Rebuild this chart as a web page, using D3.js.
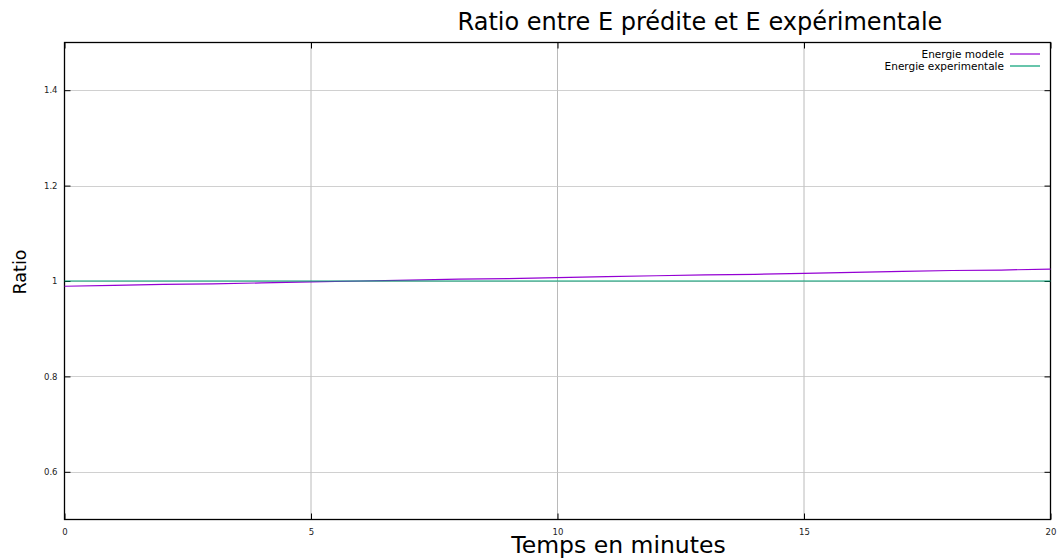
<!DOCTYPE html>
<html>
<head>
<meta charset="utf-8">
<script src="https://cdn.jsdelivr.net/npm/d3@7"></script>
<style>
  body { margin: 0; background: #fff; }
  svg { display: block; font-family: "DejaVu Sans", sans-serif; }
</style>
</head>
<body>
<svg id="chart" width="1064" height="558"></svg>
<script>
// values
const minutes = [0, 1, 2, 3, 4, 5, 6, 7, 8, 9, 10, 11, 12, 13, 14, 15, 16, 17, 18, 19, 20];
const energieModele = [0.989, 0.991, 0.993, 0.994, 0.996, 0.998, 1.000, 1.002, 1.004, 1.005, 1.007,
  1.009, 1.011, 1.013, 1.014, 1.016, 1.018, 1.020, 1.022, 1.023, 1.025];
const energieExperimentale = [1, 1, 1, 1, 1, 1, 1, 1, 1, 1, 1, 1, 1, 1, 1, 1, 1, 1, 1, 1, 1];
const xTicks = [0, 5, 10, 15, 20];
const yTicks = [0.6, 0.8, 1, 1.2, 1.4];
const seriesNames = ["Energie modele", "Energie experimentale"];
const seriesColors = ["#9400d3", "#009e73"];

const plotLeft = 64.5, plotRight = 1050.5, plotTop = 42.5, plotBottom = 519.5;

const svg = d3.select("#chart");

const x = d3.scaleLinear().domain([0, 20]).range([plotLeft, plotRight]);
const y = d3.scaleLinear().domain([0.5, 1.5]).range([plotBottom, plotTop]);

// grid
const grid = svg.append("g");
grid.selectAll(".vertical")
  .data(xTicks.slice(1, -1))
  .enter()
  .append("line")
  .attr("x1", d => x(d)).attr("x2", d => x(d))
  .attr("y1", plotTop).attr("y2", plotBottom)
  .attr("stroke", "#a8a8a8").attr("stroke-width", 0.8);
grid.selectAll(".horizontal")
  .data(yTicks)
  .enter()
  .append("line")
  .attr("x1", plotLeft).attr("x2", plotRight)
  .attr("y1", d => Math.round(y(d)) + 0.5).attr("y2", d => Math.round(y(d)) + 0.5)
  .attr("stroke", "#c4c4c4").attr("stroke-width", 0.8);

// axes (ticks inward, mirrored)
function styleAxis(g) {
  g.select(".domain").remove();
  g.selectAll(".tick line").attr("stroke", "#000");
  g.selectAll(".tick text").attr("fill", "#222").style("font-size", "8.5px")
    .style("font-family", "'DejaVu Sans', sans-serif");
}
svg.append("g")
  .attr("transform", `translate(0,${plotBottom})`)
  .call(d3.axisBottom(x).tickValues(xTicks).tickSize(-6).tickPadding(9.5).tickFormat(d3.format("d")))
  .call(styleAxis);
svg.append("g")
  .attr("transform", `translate(0,${plotTop})`)
  .call(d3.axisTop(x).tickValues(xTicks).tickSize(-6).tickFormat(""))
  .call(styleAxis);
svg.append("g")
  .attr("transform", `translate(${plotLeft},0)`)
  .call(d3.axisLeft(y).tickValues(yTicks).tickSize(-6).tickPadding(7).tickFormat(d => d3.format("")(d)))
  .call(styleAxis);
svg.append("g")
  .attr("transform", `translate(${plotRight},0)`)
  .call(d3.axisRight(y).tickValues(yTicks).tickSize(-6).tickFormat(""))
  .call(styleAxis);

svg.append("rect")
  .attr("x", plotLeft).attr("y", plotTop)
  .attr("width", plotRight - plotLeft).attr("height", plotBottom - plotTop)
  .attr("fill", "none").attr("stroke", "#000").attr("stroke-width", 1.3);

// series
const line = d3.line().x(d => x(d[0])).y(d => y(d[1]));
const allSeries = [energieModele, energieExperimentale];
allSeries.forEach((vals, i) => {
  svg.append("path")
    .datum(minutes.map((m, j) => [m, vals[j]]))
    .attr("d", line)
    .attr("fill", "none")
    .attr("stroke", seriesColors[i])
    .attr("stroke-width", 1.2);
});

// legend
const legend = svg.append("g");
seriesNames.forEach((name, i) => {
  const ly = 54 + i * 12;
  legend.append("text")
    .attr("x", 1004).attr("y", ly + 3.5)
    .attr("text-anchor", "end")
    .style("font-size", "10.5px")
    .attr("fill", "#000")
    .text(name);
  legend.append("line")
    .attr("x1", 1010).attr("x2", 1040)
    .attr("y1", ly).attr("y2", ly)
    .attr("stroke", seriesColors[i]).attr("stroke-width", 1.2);
});

// titles
svg.append("text")
  .attr("x", 700).attr("y", 29.5)
  .attr("text-anchor", "middle")
  .style("font-size", "24px")
  .text("Ratio entre E prédite et E expérimentale");
svg.append("text")
  .attr("x", 618.5).attr("y", 553)
  .attr("text-anchor", "middle")
  .style("font-size", "23.5px")
  .text("Temps en minutes");
svg.append("text")
  .attr("transform", "translate(26,272) rotate(-90)")
  .attr("text-anchor", "middle")
  .style("font-size", "17.5px")
  .text("Ratio");
</script>
</body>
</html>
